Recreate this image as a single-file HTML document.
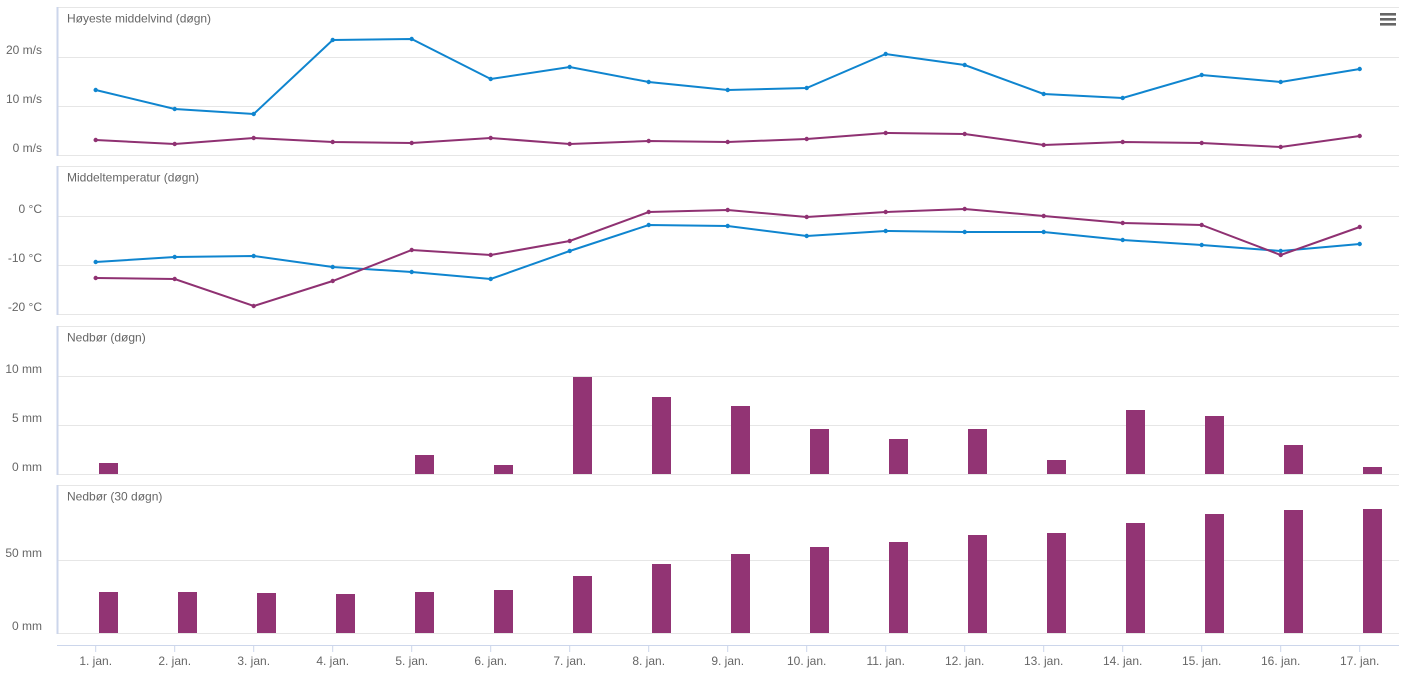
<!DOCTYPE html>
<html><head><meta charset="utf-8"><style>
body{margin:0;background:#fff;width:1408px;height:683px;overflow:hidden}
svg{display:block;font-family:"Liberation Sans",Arial,sans-serif}
</style></head><body>
<svg id="s" width="1408" height="683" xmlns="http://www.w3.org/2000/svg"></svg>
<script>
const s=document.getElementById('s');let h='';
const X=i=>95.7+i*79;
const panels=[
 {top:7,bot:155,title:'Høyeste middelvind (døgn)',grid:[[155,'0 m/s'],[106,'10 m/s'],[57,'20 m/s']],
  lines:[['#0f85cf',[90,109,114,40,39,79,67,82,90,88,54,65,94,98,75,82,69]],['#8f3172',[140,144,138,142,143,138,144,141,142,139,133,134,145,142,143,147,136]]]},
 {top:166,bot:314,title:'Middeltemperatur (døgn)',grid:[[314,'-20 °C'],[265,'-10 °C'],[216,'0 °C']],
  lines:[['#0f85cf',[262,257,256,267,272,279,251,225,226,236,231,232,232,240,245,251,244]],['#8f3172',[278,279,306,281,250,255,241,212,210,217,212,209,216,223,225,255,227]]]},
 {top:326,bot:474,title:'Nedbør (døgn)',grid:[[474,'0 mm'],[425,'5 mm'],[376,'10 mm']],
  bars:[463,null,null,null,455,465,377,397,406,429,439,429,460,410,416,445,467]},
 {top:485,bot:633,title:'Nedbør (30 døgn)',grid:[[633,'0 mm'],[560,'50 mm']],
  bars:[592,592,593,594,592,590,576,564,554,547,542,535,533,523,514,510,509]}
];
for(const p of panels){
 h+=`<line x1="57" y1="${p.top+0.5}" x2="1399" y2="${p.top+0.5}" stroke="#e6e6e6"/>`;
 for(const [y,t] of p.grid){
  h+=`<line x1="57" y1="${y+0.5}" x2="1399" y2="${y+0.5}" stroke="#e6e6e6"/>`;
  h+=`<text x="42" y="${y-3}" text-anchor="end" font-size="12" fill="#666">${t}</text>`;
 }
 h+=`<line x1="57.5" y1="${p.top}" x2="57.5" y2="${p.bot+1}" stroke="#ccd6eb" stroke-width="2"/>`;
 h+=`<text x="67" y="${p.top+15.5}" font-size="12" fill="#666">${p.title}</text>`;
 if(p.lines)for(const [c,d] of p.lines){
  h+=`<polyline fill="none" stroke="${c}" stroke-width="2" points="${d.map((y,i)=>X(i)+','+y).join(' ')}"/>`;
  d.forEach((y,i)=>h+=`<circle cx="${X(i)}" cy="${y}" r="2.2" fill="${c}"/>`);
 }
 if(p.bars)p.bars.forEach((y,i)=>{if(y!==null)h+=`<rect x="${X(i)+3.3}" y="${y}" width="19" height="${p.bot-y}" fill="#923474"/>`;});
}
h+=`<line x1="57" y1="645.5" x2="1399" y2="645.5" stroke="#ccd6eb"/>`;
for(let i=0;i<17;i++){
 h+=`<line x1="${X(i)}" y1="645" x2="${X(i)}" y2="652" stroke="#ccd6eb"/>`;
 h+=`<text x="${X(i)}" y="665" text-anchor="middle" font-size="12" fill="#666">${i+1}. jan.</text>`;
}
for(const y of [14,19,24])h+=`<rect x="1380" y="${y-1}" width="16" height="2.6" fill="#666"/>`;
s.innerHTML=h;
</script>
</body></html>
